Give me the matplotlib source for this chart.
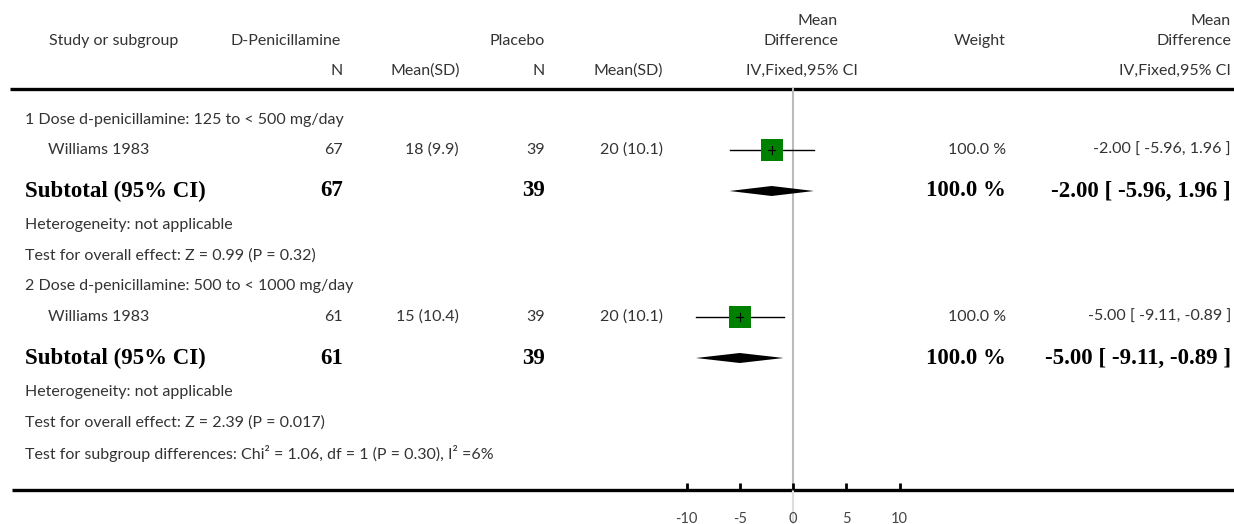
#!/usr/bin/env python3
"""Forest plot: D-Penicillamine vs placebo, mean difference by dose subgroup."""

import matplotlib
matplotlib.use("Agg")
import matplotlib.pyplot as plt
from matplotlib.patches import Rectangle

SUBGROUP_TITLES = [
    "1 Dose d-penicillamine: 125 to < 500 mg/day",
    "2 Dose d-penicillamine: 500 to < 1000 mg/day",
]
STUDY_NAMES = ["Williams 1983", "Williams 1983"]
TREAT_N = [67, 61]
TREAT_MEAN_SD = ["18 (9.9)", "15 (10.4)"]
CTRL_N = [39, 39]
CTRL_MEAN_SD = ["20 (10.1)", "20 (10.1)"]
MD = [-2.00, -5.00]
CI_LO = [-5.96, -9.11]
CI_HI = [1.96, -0.89]
WEIGHT = [100.0, 100.0]
HETEROGENEITY = ["Heterogeneity: not applicable", "Heterogeneity: not applicable"]
OVERALL_EFFECT = [
    "Test for overall effect: Z = 0.99 (P = 0.32)",
    "Test for overall effect: Z = 2.39 (P = 0.017)",
]
SUBGROUP_TEST = "Test for subgroup differences: Chi² = 1.06, df = 1 (P = 0.30), I² =6%"
X_TICKS = [-10, -5, 0, 5, 10]

W, H = 1234, 524
SANS = "Lato"
SERIF = "Liberation Serif"
GREY = "#333333"
FS = 11.5
FS_BOLD = 16.5

fig = plt.figure(figsize=(W / 100, H / 100), dpi=100)
bg = fig.add_axes([0, 0, 1, 1])
bg.set_xlim(0, W)
bg.set_ylim(H, 0)
bg.axis("off")

# forest panel: x in mean-difference units, y in the same row space as bg
ax = fig.add_axes([580 / W, 0, 426 / W, 1])
ax.set_xlim(-20, 20)
ax.set_ylim(H, 0)
ax.patch.set_alpha(0)
for side in ["top", "right", "left", "bottom"]:
    ax.spines[side].set_visible(False)
ax.spines["bottom"].set_position(("data", 490))
ax.set_yticks([])
ax.set_xticks(X_TICKS)
ax.set_xticklabels([str(t) for t in X_TICKS], fontfamily=SANS, fontsize=10.5, color="#444444")
ax.tick_params(axis="x", direction="in", length=5, width=2, pad=16, color="black")


def txt(x, y, s, ha="left", bold=False, color=None):
    if bold:
        bg.text(x, y, s, ha=ha, va="center", fontfamily=SERIF, fontweight="bold",
                fontsize=FS_BOLD, color="black")
    else:
        bg.text(x, y, s, ha=ha, va="center", fontfamily=SANS, fontsize=FS,
                color=color or GREY)


def ci_str(m, lo, hi):
    return "{:.2f} [ {:.2f}, {:.2f} ]".format(m, lo, hi)


# header
txt(838, 21, "Mean", ha="right")
txt(1231, 21, "Mean", ha="right")
txt(49, 41, "Study or subgroup")
txt(230, 41, "D-Penicillamine")
txt(545, 41, "Placebo", ha="right")
txt(838, 41, "Difference", ha="right")
txt(1006, 41, "Weight", ha="right")
txt(1231, 41, "Difference", ha="right")
txt(343, 71, "N", ha="right")
txt(460, 71, "Mean(SD)", ha="right")
txt(545, 71, "N", ha="right")
txt(663, 71, "Mean(SD)", ha="right")
txt(858, 71, "IV,Fixed,95% CI", ha="right")
txt(1231, 71, "IV,Fixed,95% CI", ha="right")

bg.plot([10, W], [89, 89], color="black", lw=2.4, solid_capstyle="butt")
bg.plot([12, W], [490, 490], color="black", lw=2.4, solid_capstyle="butt")

# zero line
ax.plot([0, 0], [89, 490], color="#bbbbbb", lw=1.5, zorder=0)
ax.plot([0, 0], [490, H], color="#dddddd", lw=1.5, zorder=0)

row_y = [[120, 150, 191, 225, 256], [286, 317, 358, 392, 423]]
for i in range(len(STUDY_NAMES)):
    y_title, y_study, y_sub, y_het, y_eff = row_y[i]
    txt(25, y_title, SUBGROUP_TITLES[i])

    txt(48, y_study, STUDY_NAMES[i])
    txt(343, y_study, str(TREAT_N[i]), ha="right")
    txt(459, y_study, TREAT_MEAN_SD[i], ha="right")
    txt(545, y_study, str(CTRL_N[i]), ha="right")
    txt(663, y_study, CTRL_MEAN_SD[i], ha="right")
    txt(1006, y_study, "{:.1f} %".format(WEIGHT[i]), ha="right")
    txt(1231, y_study, ci_str(MD[i], CI_LO[i], CI_HI[i]), ha="right")

    ax.plot([CI_LO[i], CI_HI[i]], [y_study, y_study], color="black", lw=1.0, zorder=2)
    sq_w = 22 / 10.65
    ax.add_patch(Rectangle((MD[i] - sq_w / 2, y_study - 11), sq_w, 22,
                           facecolor="#008000", edgecolor="none", zorder=3))
    ax.plot([MD[i], MD[i]], [y_study - 4, y_study + 4], color="black", lw=0.8, zorder=4)
    ax.plot([MD[i] - 0.35, MD[i] + 0.35], [y_study, y_study], color="black", lw=0.8, zorder=4)

    txt(25, y_sub, "Subtotal (95% CI)", bold=True)
    txt(343, y_sub, str(TREAT_N[i]), ha="right", bold=True)
    txt(545, y_sub, str(CTRL_N[i]), ha="right", bold=True)
    txt(1006, y_sub, "{:.1f} %".format(WEIGHT[i]), ha="right", bold=True)
    txt(1231, y_sub, ci_str(MD[i], CI_LO[i], CI_HI[i]), ha="right", bold=True)
    ax.fill([CI_LO[i], MD[i], CI_HI[i], MD[i]],
            [y_sub, y_sub - 5, y_sub, y_sub + 5], color="black", lw=0, zorder=3)

    txt(25, y_het, HETEROGENEITY[i])
    txt(25, y_eff, OVERALL_EFFECT[i])

txt(25, 453, SUBGROUP_TEST)

fig.savefig("out.png", dpi=100, facecolor="white")
